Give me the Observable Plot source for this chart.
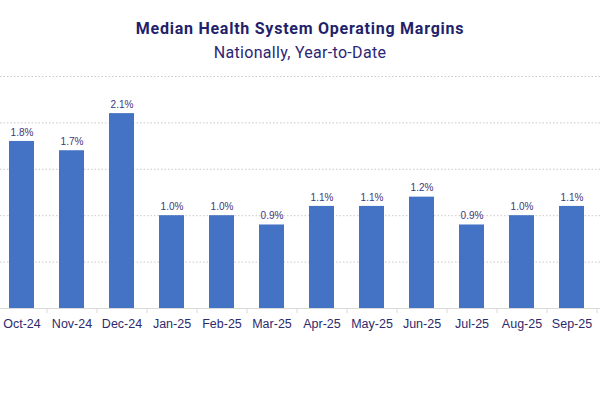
<!DOCTYPE html>
<html><head><meta charset="utf-8">
<script src="https://cdn.jsdelivr.net/npm/d3@7"></script>
<script src="https://cdn.jsdelivr.net/npm/@observablehq/plot@0.6"></script>
<style>
body{margin:0;background:#fff;width:600px;overflow:hidden}
#head{height:70px;position:relative}
#title{position:absolute;left:0;right:0;top:18.5px;font-family:Roboto,sans-serif;font-weight:bold;font-size:16px;letter-spacing:0.75px;color:#231f6b;text-align:center;line-height:20px}
#sub{position:absolute;left:0;right:0;top:42.8px;font-family:Roboto,sans-serif;font-size:16px;letter-spacing:0.3px;color:#2b2675;text-align:center;line-height:20px}
</style></head><body>
<div id="head">
<div id="title">Median Health System Operating Margins</div>
<div id="sub">Nationally, Year-to-Date</div>
</div>
<div id="chart"></div>
<script>
const months = ["Oct-24","Nov-24","Dec-24","Jan-25","Feb-25","Mar-25","Apr-25","May-25","Jun-25","Jul-25","Aug-25","Sep-25"];
const margins = [1.8,1.7,2.1,1.0,1.0,0.9,1.1,1.1,1.2,0.9,1.0,1.1];
const gridValues = [0.5,1.0,1.5,2.0,2.5];
const data = months.map((m,i)=>({month:m, value:margins[i]}));
const chart = Plot.plot({
  width:600, height:330,
  marginTop:6, marginBottom:92, marginLeft:0, marginRight:0,
  x:{domain:months, range:[-4,596], paddingInner:0.5, paddingOuter:0.25, label:null},
  y:{domain:[0,2.5], axis:null},
  style:{background:"#fff"},
  marks:[
    Plot.ruleY(gridValues,{stroke:"#c8c8c8", strokeDasharray:"1.5,2"}),
    Plot.barY(data,{x:"month", y:"value", fill:"#4472c4"}),
    Plot.ruleY([0],{stroke:"#d9d9d9"}),
    Plot.ruleX(months,{x:d=>d, dx:25, y1:0, y2:-0.055, stroke:"#d9d9d9"}),
    Plot.text(data,{x:"month", y:"value", text:d=>d.value.toFixed(1)+"%", dy:-9, fill:"#3c3880", fontSize:10, fontFamily:"'Liberation Sans', sans-serif"}),
    Plot.axisX({tickSize:0, tickPadding:11, fontSize:12.5, fontFamily:"'Liberation Sans', sans-serif", fill:"#2d2a6e", color:"#2d2a6e"}),
  ]
});
document.getElementById("chart").appendChild(chart);
</script>
</body></html>
